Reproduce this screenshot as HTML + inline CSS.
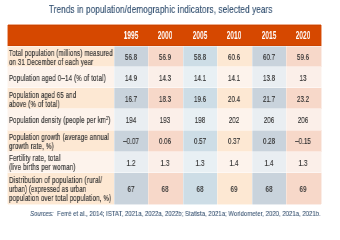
<!DOCTYPE html><html><head><meta charset="utf-8"><style>
html,body{margin:0;padding:0;background:#fff;}
body{width:340px;height:232px;position:relative;overflow:hidden;font-family:"Liberation Sans",sans-serif;}
.a{position:absolute;}
.t{position:absolute;white-space:nowrap;line-height:1;will-change:transform;}
.kt{-webkit-text-stroke:0.15px currentColor;}
.kh{-webkit-text-stroke:0.1px currentColor;}
.ks{-webkit-text-stroke:0.08px currentColor;}
.kd{-webkit-text-stroke:0.15px currentColor;}
.kl{-webkit-text-stroke:0.2px currentColor;}
sup{font-size:60%;vertical-align:0;position:relative;top:-0.62em;}
#w{position:absolute;left:0;top:0;width:340px;height:232px;}
</style></head><body><div id="w">
<div class="t kt" style="left:48.9px;top:4.17px;font-size:10.6px;letter-spacing:0.2px;color:#2f4d6e;transform:scaleX(0.76);transform-origin:0 0;">Trends in population/demographic indicators, selected years</div>
<div class="a" style="left:7.6px;top:24.5px;width:313.2px;height:21.3px;background:#d64800;"></div>
<div class="t kh" style="left:100.86px;top:31.42px;width:60px;text-align:center;font-weight:bold;font-size:10.2px;color:#fff;transform:scaleX(0.65);transform-origin:30px 0;">1995</div>
<div class="t kh" style="left:135.38px;top:31.42px;width:60px;text-align:center;font-weight:bold;font-size:10.2px;color:#fff;transform:scaleX(0.65);transform-origin:30px 0;">2000</div>
<div class="t kh" style="left:169.9px;top:31.42px;width:60px;text-align:center;font-weight:bold;font-size:10.2px;color:#fff;transform:scaleX(0.65);transform-origin:30px 0;">2005</div>
<div class="t kh" style="left:204.42px;top:31.42px;width:60px;text-align:center;font-weight:bold;font-size:10.2px;color:#fff;transform:scaleX(0.65);transform-origin:30px 0;">2010</div>
<div class="t kh" style="left:238.94px;top:31.42px;width:60px;text-align:center;font-weight:bold;font-size:10.2px;color:#fff;transform:scaleX(0.65);transform-origin:30px 0;">2015</div>
<div class="t kh" style="left:273.46px;top:31.42px;width:60px;text-align:center;font-weight:bold;font-size:10.2px;color:#fff;transform:scaleX(0.65);transform-origin:30px 0;">2020</div>
<div class="a" style="left:7.6px;top:46px;width:106px;height:20.7px;background:#fde8d3;"></div>
<div class="a" style="left:113.6px;top:46px;width:34.52px;height:20.7px;background:#c9d3dc;"></div>
<div class="a" style="left:148.12px;top:46px;width:34.52px;height:20.7px;background:#f7d8c9;"></div>
<div class="a" style="left:182.64px;top:46px;width:34.52px;height:20.7px;background:#cddde6;"></div>
<div class="a" style="left:217.16px;top:46px;width:34.52px;height:20.7px;background:#fde8d3;"></div>
<div class="a" style="left:251.68px;top:46px;width:34.52px;height:20.7px;background:#c9d3dc;"></div>
<div class="a" style="left:286.2px;top:46px;width:34.6px;height:20.7px;background:#f7d8c9;"></div>
<div class="t kl" style="left:9.3px;top:48.6px;font-size:8.4px;letter-spacing:0.28px;color:#363636;transform:scaleX(0.7200);transform-origin:0 0;">Total population (millions) measured</div>
<div class="t kl" style="left:9.3px;top:57.6px;font-size:8.4px;letter-spacing:0.28px;color:#363636;transform:scaleX(0.7148);transform-origin:0 0;">on 31 December of each year</div>
<div class="t kd" style="left:100.86px;top:52.79px;width:60px;text-align:center;font-size:8.6px;color:#333333;transform:scaleX(0.73);transform-origin:30px 0;">56.8</div>
<div class="t kd" style="left:135.38px;top:52.79px;width:60px;text-align:center;font-size:8.6px;color:#333333;transform:scaleX(0.73);transform-origin:30px 0;">56.9</div>
<div class="t kd" style="left:169.9px;top:52.79px;width:60px;text-align:center;font-size:8.6px;color:#333333;transform:scaleX(0.73);transform-origin:30px 0;">58.8</div>
<div class="t kd" style="left:204.42px;top:52.79px;width:60px;text-align:center;font-size:8.6px;color:#333333;transform:scaleX(0.73);transform-origin:30px 0;">60.6</div>
<div class="t kd" style="left:238.94px;top:52.79px;width:60px;text-align:center;font-size:8.6px;color:#333333;transform:scaleX(0.73);transform-origin:30px 0;">60.7</div>
<div class="t kd" style="left:273.46px;top:52.79px;width:60px;text-align:center;font-size:8.6px;color:#333333;transform:scaleX(0.73);transform-origin:30px 0;">59.6</div>
<div class="a" style="left:7.6px;top:66.7px;width:106px;height:21.1px;background:#fdf3ec;"></div>
<div class="a" style="left:113.6px;top:66.7px;width:34.52px;height:21.1px;background:#e9eef2;"></div>
<div class="a" style="left:148.12px;top:66.7px;width:34.52px;height:21.1px;background:#fbefe9;"></div>
<div class="a" style="left:182.64px;top:66.7px;width:34.52px;height:21.1px;background:#e8f0f4;"></div>
<div class="a" style="left:217.16px;top:66.7px;width:34.52px;height:21.1px;background:#fdf3ec;"></div>
<div class="a" style="left:251.68px;top:66.7px;width:34.52px;height:21.1px;background:#e9eef2;"></div>
<div class="a" style="left:286.2px;top:66.7px;width:34.6px;height:21.1px;background:#fbefe9;"></div>
<div class="t kl" style="left:9.3px;top:74px;font-size:8.4px;letter-spacing:0.28px;color:#363636;transform:scaleX(0.7253);transform-origin:0 0;">Population aged 0&#8211;14 (% of total)</div>
<div class="t kd" style="left:100.86px;top:73.69px;width:60px;text-align:center;font-size:8.6px;color:#333333;transform:scaleX(0.73);transform-origin:30px 0;">14.9</div>
<div class="t kd" style="left:135.38px;top:73.69px;width:60px;text-align:center;font-size:8.6px;color:#333333;transform:scaleX(0.73);transform-origin:30px 0;">14.3</div>
<div class="t kd" style="left:169.9px;top:73.69px;width:60px;text-align:center;font-size:8.6px;color:#333333;transform:scaleX(0.73);transform-origin:30px 0;">14.1</div>
<div class="t kd" style="left:204.42px;top:73.69px;width:60px;text-align:center;font-size:8.6px;color:#333333;transform:scaleX(0.73);transform-origin:30px 0;">14.1</div>
<div class="t kd" style="left:238.94px;top:73.69px;width:60px;text-align:center;font-size:8.6px;color:#333333;transform:scaleX(0.73);transform-origin:30px 0;">13.8</div>
<div class="t kd" style="left:273.46px;top:73.69px;width:60px;text-align:center;font-size:8.6px;color:#333333;transform:scaleX(0.73);transform-origin:30px 0;">13</div>
<div class="a" style="left:7.6px;top:87.8px;width:106px;height:20.9px;background:#fde8d3;"></div>
<div class="a" style="left:113.6px;top:87.8px;width:34.52px;height:20.9px;background:#c9d3dc;"></div>
<div class="a" style="left:148.12px;top:87.8px;width:34.52px;height:20.9px;background:#f7d8c9;"></div>
<div class="a" style="left:182.64px;top:87.8px;width:34.52px;height:20.9px;background:#cddde6;"></div>
<div class="a" style="left:217.16px;top:87.8px;width:34.52px;height:20.9px;background:#fde8d3;"></div>
<div class="a" style="left:251.68px;top:87.8px;width:34.52px;height:20.9px;background:#c9d3dc;"></div>
<div class="a" style="left:286.2px;top:87.8px;width:34.6px;height:20.9px;background:#f7d8c9;"></div>
<div class="t kl" style="left:9.3px;top:90.5px;font-size:8.4px;letter-spacing:0.28px;color:#363636;transform:scaleX(0.7104);transform-origin:0 0;">Population aged 65 and</div>
<div class="t kl" style="left:9.3px;top:99.5px;font-size:8.4px;letter-spacing:0.28px;color:#363636;transform:scaleX(0.7186);transform-origin:0 0;">above (% of total)</div>
<div class="t kd" style="left:100.86px;top:94.69px;width:60px;text-align:center;font-size:8.6px;color:#333333;transform:scaleX(0.73);transform-origin:30px 0;">16.7</div>
<div class="t kd" style="left:135.38px;top:94.69px;width:60px;text-align:center;font-size:8.6px;color:#333333;transform:scaleX(0.73);transform-origin:30px 0;">18.3</div>
<div class="t kd" style="left:169.9px;top:94.69px;width:60px;text-align:center;font-size:8.6px;color:#333333;transform:scaleX(0.73);transform-origin:30px 0;">19.6</div>
<div class="t kd" style="left:204.42px;top:94.69px;width:60px;text-align:center;font-size:8.6px;color:#333333;transform:scaleX(0.73);transform-origin:30px 0;">20.4</div>
<div class="t kd" style="left:238.94px;top:94.69px;width:60px;text-align:center;font-size:8.6px;color:#333333;transform:scaleX(0.73);transform-origin:30px 0;">21.7</div>
<div class="t kd" style="left:273.46px;top:94.69px;width:60px;text-align:center;font-size:8.6px;color:#333333;transform:scaleX(0.73);transform-origin:30px 0;">23.2</div>
<div class="a" style="left:7.6px;top:108.7px;width:106px;height:21.6px;background:#fdf3ec;"></div>
<div class="a" style="left:113.6px;top:108.7px;width:34.52px;height:21.6px;background:#e9eef2;"></div>
<div class="a" style="left:148.12px;top:108.7px;width:34.52px;height:21.6px;background:#fbefe9;"></div>
<div class="a" style="left:182.64px;top:108.7px;width:34.52px;height:21.6px;background:#e8f0f4;"></div>
<div class="a" style="left:217.16px;top:108.7px;width:34.52px;height:21.6px;background:#fdf3ec;"></div>
<div class="a" style="left:251.68px;top:108.7px;width:34.52px;height:21.6px;background:#e9eef2;"></div>
<div class="a" style="left:286.2px;top:108.7px;width:34.6px;height:21.6px;background:#fbefe9;"></div>
<div class="t kl" style="left:9.3px;top:116.25px;font-size:8.4px;letter-spacing:0.28px;color:#363636;transform:scaleX(0.7143);transform-origin:0 0;">Population density (people per km<sup>2</sup>)</div>
<div class="t kd" style="left:100.86px;top:115.94px;width:60px;text-align:center;font-size:8.6px;color:#333333;transform:scaleX(0.73);transform-origin:30px 0;">194</div>
<div class="t kd" style="left:135.38px;top:115.94px;width:60px;text-align:center;font-size:8.6px;color:#333333;transform:scaleX(0.73);transform-origin:30px 0;">193</div>
<div class="t kd" style="left:169.9px;top:115.94px;width:60px;text-align:center;font-size:8.6px;color:#333333;transform:scaleX(0.73);transform-origin:30px 0;">198</div>
<div class="t kd" style="left:204.42px;top:115.94px;width:60px;text-align:center;font-size:8.6px;color:#333333;transform:scaleX(0.73);transform-origin:30px 0;">202</div>
<div class="t kd" style="left:238.94px;top:115.94px;width:60px;text-align:center;font-size:8.6px;color:#333333;transform:scaleX(0.73);transform-origin:30px 0;">206</div>
<div class="t kd" style="left:273.46px;top:115.94px;width:60px;text-align:center;font-size:8.6px;color:#333333;transform:scaleX(0.73);transform-origin:30px 0;">206</div>
<div class="a" style="left:7.6px;top:130.3px;width:106px;height:21.3px;background:#fde8d3;"></div>
<div class="a" style="left:113.6px;top:130.3px;width:34.52px;height:21.3px;background:#c9d3dc;"></div>
<div class="a" style="left:148.12px;top:130.3px;width:34.52px;height:21.3px;background:#f7d8c9;"></div>
<div class="a" style="left:182.64px;top:130.3px;width:34.52px;height:21.3px;background:#cddde6;"></div>
<div class="a" style="left:217.16px;top:130.3px;width:34.52px;height:21.3px;background:#fde8d3;"></div>
<div class="a" style="left:251.68px;top:130.3px;width:34.52px;height:21.3px;background:#c9d3dc;"></div>
<div class="a" style="left:286.2px;top:130.3px;width:34.6px;height:21.3px;background:#f7d8c9;"></div>
<div class="t kl" style="left:9.3px;top:133.2px;font-size:8.4px;letter-spacing:0.28px;color:#363636;transform:scaleX(0.7193);transform-origin:0 0;">Population growth (average annual</div>
<div class="t kl" style="left:9.3px;top:142.2px;font-size:8.4px;letter-spacing:0.28px;color:#363636;transform:scaleX(0.7365);transform-origin:0 0;">growth rate, %)</div>
<div class="t kd" style="left:100.86px;top:137.39px;width:60px;text-align:center;font-size:8.6px;color:#333333;transform:scaleX(0.73);transform-origin:30px 0;">&#8211;0.07</div>
<div class="t kd" style="left:135.38px;top:137.39px;width:60px;text-align:center;font-size:8.6px;color:#333333;transform:scaleX(0.73);transform-origin:30px 0;">0.06</div>
<div class="t kd" style="left:169.9px;top:137.39px;width:60px;text-align:center;font-size:8.6px;color:#333333;transform:scaleX(0.73);transform-origin:30px 0;">0.57</div>
<div class="t kd" style="left:204.42px;top:137.39px;width:60px;text-align:center;font-size:8.6px;color:#333333;transform:scaleX(0.73);transform-origin:30px 0;">0.37</div>
<div class="t kd" style="left:238.94px;top:137.39px;width:60px;text-align:center;font-size:8.6px;color:#333333;transform:scaleX(0.73);transform-origin:30px 0;">0.28</div>
<div class="t kd" style="left:273.46px;top:137.39px;width:60px;text-align:center;font-size:8.6px;color:#333333;transform:scaleX(0.73);transform-origin:30px 0;">&#8211;0.15</div>
<div class="a" style="left:7.6px;top:151.6px;width:106px;height:21.1px;background:#fdf3ec;"></div>
<div class="a" style="left:113.6px;top:151.6px;width:34.52px;height:21.1px;background:#e9eef2;"></div>
<div class="a" style="left:148.12px;top:151.6px;width:34.52px;height:21.1px;background:#fbefe9;"></div>
<div class="a" style="left:182.64px;top:151.6px;width:34.52px;height:21.1px;background:#e8f0f4;"></div>
<div class="a" style="left:217.16px;top:151.6px;width:34.52px;height:21.1px;background:#fdf3ec;"></div>
<div class="a" style="left:251.68px;top:151.6px;width:34.52px;height:21.1px;background:#e9eef2;"></div>
<div class="a" style="left:286.2px;top:151.6px;width:34.6px;height:21.1px;background:#fbefe9;"></div>
<div class="t kl" style="left:9.3px;top:154.4px;font-size:8.4px;letter-spacing:0.28px;color:#363636;transform:scaleX(0.7359);transform-origin:0 0;">Fertility rate, total</div>
<div class="t kl" style="left:9.3px;top:163.4px;font-size:8.4px;letter-spacing:0.28px;color:#363636;transform:scaleX(0.7300);transform-origin:0 0;">(live births per woman)</div>
<div class="t kd" style="left:100.86px;top:158.59px;width:60px;text-align:center;font-size:8.6px;color:#333333;transform:scaleX(0.73);transform-origin:30px 0;">1.2</div>
<div class="t kd" style="left:135.38px;top:158.59px;width:60px;text-align:center;font-size:8.6px;color:#333333;transform:scaleX(0.73);transform-origin:30px 0;">1.3</div>
<div class="t kd" style="left:169.9px;top:158.59px;width:60px;text-align:center;font-size:8.6px;color:#333333;transform:scaleX(0.73);transform-origin:30px 0;">1.3</div>
<div class="t kd" style="left:204.42px;top:158.59px;width:60px;text-align:center;font-size:8.6px;color:#333333;transform:scaleX(0.73);transform-origin:30px 0;">1.4</div>
<div class="t kd" style="left:238.94px;top:158.59px;width:60px;text-align:center;font-size:8.6px;color:#333333;transform:scaleX(0.73);transform-origin:30px 0;">1.4</div>
<div class="t kd" style="left:273.46px;top:158.59px;width:60px;text-align:center;font-size:8.6px;color:#333333;transform:scaleX(0.73);transform-origin:30px 0;">1.3</div>
<div class="a" style="left:7.6px;top:172.7px;width:106px;height:31.8px;background:#fde8d3;"></div>
<div class="a" style="left:113.6px;top:172.7px;width:34.52px;height:31.8px;background:#c9d3dc;"></div>
<div class="a" style="left:148.12px;top:172.7px;width:34.52px;height:31.8px;background:#f7d8c9;"></div>
<div class="a" style="left:182.64px;top:172.7px;width:34.52px;height:31.8px;background:#cddde6;"></div>
<div class="a" style="left:217.16px;top:172.7px;width:34.52px;height:31.8px;background:#fde8d3;"></div>
<div class="a" style="left:251.68px;top:172.7px;width:34.52px;height:31.8px;background:#c9d3dc;"></div>
<div class="a" style="left:286.2px;top:172.7px;width:34.6px;height:31.8px;background:#f7d8c9;"></div>
<div class="t kl" style="left:9.3px;top:176.35px;font-size:8.4px;letter-spacing:0.28px;color:#363636;transform:scaleX(0.7401);transform-origin:0 0;">Distribution of population (rural/</div>
<div class="t kl" style="left:9.3px;top:185.35px;font-size:8.4px;letter-spacing:0.28px;color:#363636;transform:scaleX(0.7008);transform-origin:0 0;">urban) (expressed as urban</div>
<div class="t kl" style="left:9.3px;top:194.35px;font-size:8.4px;letter-spacing:0.28px;color:#363636;transform:scaleX(0.7235);transform-origin:0 0;">population over total population, %)</div>
<div class="t kd" style="left:100.86px;top:185.04px;width:60px;text-align:center;font-size:8.6px;color:#333333;transform:scaleX(0.73);transform-origin:30px 0;">67</div>
<div class="t kd" style="left:135.38px;top:185.04px;width:60px;text-align:center;font-size:8.6px;color:#333333;transform:scaleX(0.73);transform-origin:30px 0;">68</div>
<div class="t kd" style="left:169.9px;top:185.04px;width:60px;text-align:center;font-size:8.6px;color:#333333;transform:scaleX(0.73);transform-origin:30px 0;">68</div>
<div class="t kd" style="left:204.42px;top:185.04px;width:60px;text-align:center;font-size:8.6px;color:#333333;transform:scaleX(0.73);transform-origin:30px 0;">69</div>
<div class="t kd" style="left:238.94px;top:185.04px;width:60px;text-align:center;font-size:8.6px;color:#333333;transform:scaleX(0.73);transform-origin:30px 0;">68</div>
<div class="t kd" style="left:273.46px;top:185.04px;width:60px;text-align:center;font-size:8.6px;color:#333333;transform:scaleX(0.73);transform-origin:30px 0;">69</div>
<div class="a" style="left:8px;top:24px;width:313px;height:1px;background:rgba(214,72,0,0.45);"></div>
<div class="a" style="left:7px;top:25px;width:1px;height:21px;background:rgba(214,72,0,0.45);"></div>
<div class="a" style="left:321px;top:25px;width:1px;height:21px;background:rgba(214,72,0,0.45);"></div>
<div class="a" style="left:7px;top:46px;width:1px;height:21px;background:rgba(253,232,211,0.45);"></div>
<div class="a" style="left:321px;top:46px;width:1px;height:21px;background:rgba(247,216,201,0.45);"></div>
<div class="a" style="left:7px;top:67px;width:1px;height:21px;background:rgba(253,243,236,0.45);"></div>
<div class="a" style="left:321px;top:67px;width:1px;height:21px;background:rgba(251,239,233,0.45);"></div>
<div class="a" style="left:7px;top:88px;width:1px;height:21px;background:rgba(253,232,211,0.45);"></div>
<div class="a" style="left:321px;top:88px;width:1px;height:21px;background:rgba(247,216,201,0.45);"></div>
<div class="a" style="left:7px;top:109px;width:1px;height:21px;background:rgba(253,243,236,0.45);"></div>
<div class="a" style="left:321px;top:109px;width:1px;height:21px;background:rgba(251,239,233,0.45);"></div>
<div class="a" style="left:7px;top:130px;width:1px;height:22px;background:rgba(253,232,211,0.45);"></div>
<div class="a" style="left:321px;top:130px;width:1px;height:22px;background:rgba(247,216,201,0.45);"></div>
<div class="a" style="left:7px;top:152px;width:1px;height:21px;background:rgba(253,243,236,0.45);"></div>
<div class="a" style="left:321px;top:152px;width:1px;height:21px;background:rgba(251,239,233,0.45);"></div>
<div class="a" style="left:7px;top:173px;width:1px;height:31px;background:rgba(253,232,211,0.45);"></div>
<div class="a" style="left:321px;top:173px;width:1px;height:31px;background:rgba(247,216,201,0.45);"></div>
<div class="a" style="left:8px;top:204px;width:106px;height:1px;background:rgba(253,232,211,0.45);"></div>
<div class="a" style="left:114px;top:204px;width:34px;height:1px;background:rgba(201,211,220,0.45);"></div>
<div class="a" style="left:148px;top:204px;width:35px;height:1px;background:rgba(247,216,201,0.45);"></div>
<div class="a" style="left:183px;top:204px;width:34px;height:1px;background:rgba(205,221,230,0.45);"></div>
<div class="a" style="left:217px;top:204px;width:35px;height:1px;background:rgba(253,232,211,0.45);"></div>
<div class="a" style="left:252px;top:204px;width:34px;height:1px;background:rgba(201,211,220,0.45);"></div>
<div class="a" style="left:286px;top:204px;width:35px;height:1px;background:rgba(247,216,201,0.45);"></div>
<div class="a" style="left:8px;top:25px;width:313px;height:1px;background:rgba(120,30,0,0.12);"></div>
<div class="a" style="left:8px;top:45px;width:313px;height:1px;background:rgba(120,30,0,0.12);"></div>
<div class="a" style="left:7.6px;top:46px;width:313.2px;height:1px;background:rgba(255,255,255,0.45);"></div>
<div class="a" style="left:7.6px;top:66px;width:313.2px;height:1px;background:rgba(255,255,255,0.45);"></div>
<div class="a" style="left:7.6px;top:87px;width:313.2px;height:1px;background:rgba(255,255,255,0.45);"></div>
<div class="a" style="left:7.6px;top:108px;width:313.2px;height:1px;background:rgba(255,255,255,0.45);"></div>
<div class="a" style="left:7.6px;top:130px;width:313.2px;height:1px;background:rgba(255,255,255,0.45);"></div>
<div class="a" style="left:7.6px;top:151px;width:313.2px;height:1px;background:rgba(255,255,255,0.45);"></div>
<div class="a" style="left:7.6px;top:172px;width:313.2px;height:1px;background:rgba(255,255,255,0.45);"></div>
<div class="a" style="left:114px;top:46px;width:1px;height:158.5px;background:rgba(255,255,255,0.3);"></div>
<div class="a" style="left:148px;top:46px;width:1px;height:158.5px;background:rgba(255,255,255,0.3);"></div>
<div class="a" style="left:183px;top:46px;width:1px;height:158.5px;background:rgba(255,255,255,0.3);"></div>
<div class="a" style="left:217px;top:46px;width:1px;height:158.5px;background:rgba(255,255,255,0.3);"></div>
<div class="a" style="left:252px;top:46px;width:1px;height:158.5px;background:rgba(255,255,255,0.3);"></div>
<div class="a" style="left:286px;top:46px;width:1px;height:158.5px;background:rgba(255,255,255,0.3);"></div>
<div class="t ks" style="left:29.9px;top:210.06px;font-size:7.8px;color:#3a5573;transform:scaleX(0.77);transform-origin:0 0;"><i>Sources:</i>&nbsp; Ferr&#233; et al., 2014; ISTAT, 2021a, 2022a, 2022b; Statista, 2021a; Worldometer, 2020, 2021a, 2021b.</div>
</div></body></html>
